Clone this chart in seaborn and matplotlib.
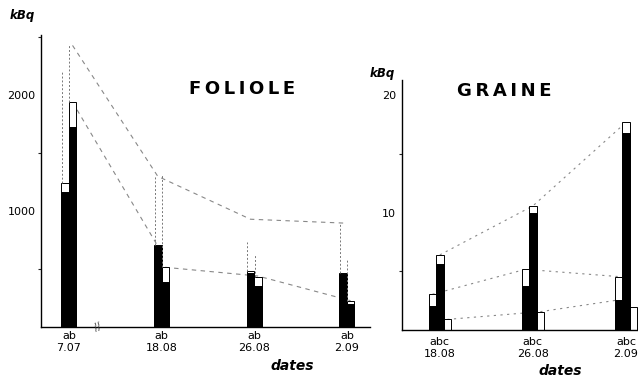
import numpy as np
import pandas as pd
import matplotlib
matplotlib.use("Agg")
import matplotlib.pyplot as plt
import seaborn as sns
from matplotlib.ticker import FixedLocator

sns.set_theme(style="white")
plt.rcParams['font.family'] = ['DejaVu Sans']

# ---------------- data ----------------
fol_dates = ['7.07', '18.08', '26.08', '2.09']
fol_bars = ['a', 'b']
fol_black_a = [1163, 698, 468, 454]
fol_black_b = [1727, 390, 356, 195]
fol_total_a = [1240, 710, 480, 470]
fol_total_b = [1940, 515, 434, 227]
fol_whisk_a = [2200, 1300, 735, 897]
fol_whisk_b = [2430, 1310, 630, 578]

fol_line1_dates = ['7.07', '18.08', '26.08', '2.09']
fol_line1_bars = ['b', 'a', 'a', 'a']
fol_line1_vals = [2430, 1300, 930, 897]
fol_line2_dates = ['7.07', '18.08']
fol_line2_bars = ['b', 'a']
fol_line2_vals = [1940, 698]
fol_line3_dates = ['18.08', '26.08', '2.09']
fol_line3_bars = ['b', 'b', 'b']
fol_line3_vals = [515, 440, 227]

gr_dates = ['18.08', '26.08', '2.09']
gr_bars = ['a', 'b', 'c']
gr_black_a = [2.05, 3.78, 2.56]
gr_black_b = [5.6, 9.95, 16.77]
gr_black_c = [0.0, 0.0, 0.0]
gr_total_a = [3.04, 5.17, 4.55]
gr_total_b = [6.4, 10.57, 17.68]
gr_total_c = [0.9, 1.56, 2.0]

gr_line1_dates = ['18.08', '26.08', '2.09']
gr_line1_bars = ['b', 'b', 'b']
gr_line1_vals = [6.4, 10.57, 17.68]
gr_line2_dates = ['18.08', '26.08', '2.09']
gr_line2_bars = ['a', 'a', 'a']
gr_line2_vals = [3.04, 5.17, 4.55]
gr_line3_dates = ['18.08', '26.08', '2.09']
gr_line3_bars = ['c', 'c', 'a']
gr_line3_vals = [0.9, 1.56, 2.56]

fol_letters = 'ab'
gr_letters = 'abc'

# ---------------- figure ----------------
fig = plt.figure(figsize=(6.38, 3.8), dpi=100)
ax1 = fig.add_axes([0.0643, 0.1395, 0.5157, 0.7684])
ax2 = fig.add_axes([0.6296, 0.1316, 0.3704, 0.6579])

BAR_W = 0.08


def draw_panel(ax, dates, bars, blacks, totals, letters):
    n = len(bars)
    rows = []
    for bi, b in enumerate(bars):
        for di, d in enumerate(dates):
            rows.append(dict(date=d, bar=b, black=blacks[bi][di], total=totals[bi][di]))
    df = pd.DataFrame(rows)
    sns.barplot(data=df, x='date', y='total', hue='bar', order=dates, hue_order=bars,
                dodge=True, width=BAR_W * n, gap=0, palette=['white'] * n,
                edgecolor='black', linewidth=0.7, legend=False, ax=ax,
                errorbar=None, saturation=1)
    sns.barplot(data=df, x='date', y='black', hue='bar', order=dates, hue_order=bars,
                dodge=True, width=BAR_W * n, gap=0, palette=['black'] * n,
                edgecolor='black', linewidth=0.7, legend=False, ax=ax,
                errorbar=None, saturation=1)
    offs = {b: (i - (n - 1) / 2) * BAR_W for i, b in enumerate(bars)}
    ax.set_xticks(range(len(dates)))
    ax.set_xticklabels([f"{letters}\n{d}" for d in dates], fontsize=8,
                       linespacing=1.25)
    return offs


def pos(dates_all, ds, bs, offs):
    return [dates_all.index(d) + offs[b] for d, b in zip(ds, bs)]


offs1 = draw_panel(ax1, fol_dates, fol_bars,
                   [fol_black_a, fol_black_b], [fol_total_a, fol_total_b], fol_letters)
offs2 = draw_panel(ax2, gr_dates, gr_bars,
                   [gr_black_a, gr_black_b, gr_black_c],
                   [gr_total_a, gr_total_b, gr_total_c], gr_letters)

# whiskers (dashed uprights) on FOLIOLE
for b, tot, wh in [('a', fol_total_a, fol_whisk_a), ('b', fol_total_b, fol_whisk_b)]:
    xs = [i + offs1[b] - BAR_W / 2 + 0.005 for i in range(len(fol_dates))]
    ax1.vlines(xs, tot, wh, colors='#777777', linestyles=(0, (2, 2)), lw=0.7, zorder=3)

lkw = dict(color='#888888', lw=0.8, linestyle=(0, (4, 4)), sort=False, zorder=0.5)
for ds, bs, vs in [(fol_line1_dates, fol_line1_bars, fol_line1_vals),
                   (fol_line2_dates, fol_line2_bars, fol_line2_vals),
                   (fol_line3_dates, fol_line3_bars, fol_line3_vals)]:
    sns.lineplot(x=pos(fol_dates, ds, bs, offs1), y=vs, ax=ax1, **lkw)

lkw2 = dict(color='#888888', lw=0.8, linestyle=(0, (2, 4)), sort=False, zorder=0.5)
for ds, bs, vs in [(gr_line1_dates, gr_line1_bars, gr_line1_vals),
                   (gr_line2_dates, gr_line2_bars, gr_line2_vals),
                   (gr_line3_dates, gr_line3_bars, gr_line3_vals)]:
    sns.lineplot(x=pos(gr_dates, ds, bs, offs2), y=vs, ax=ax2, **lkw2)

# axes styling
for ax in (ax1, ax2):
    for s in ('top', 'right'):
        ax.spines[s].set_visible(False)
    for s in ('left', 'bottom'):
        ax.spines[s].set_color('black')
        ax.spines[s].set_linewidth(1.0)
    ax.set_xlabel('')
    ax.set_ylabel('')
    ax.tick_params(axis='x', length=0, pad=3, colors='black')
    ax.tick_params(axis='y', which='major', length=3, width=0.8, direction='out',
                   labelsize=8, pad=1, colors='black')
    ax.tick_params(axis='y', which='minor', length=2, width=0.8, direction='out', left=True)
    ax.grid(False)

ax1.set_xlim(-0.30, 3.25)
ax1.set_ylim(0, 2520)
ax1.yaxis.set_major_locator(FixedLocator([1000, 2000]))
ax1.yaxis.set_minor_locator(FixedLocator([500, 1500, 2500]))

ax2.set_xlim(-0.41, 2.13)
ax2.set_ylim(0, 21.3)
ax2.yaxis.set_major_locator(FixedLocator([10, 20]))
ax2.yaxis.set_minor_locator(FixedLocator([5, 15]))
ax2.tick_params(axis='x', pad=5)

# axis break mark
ax1.text(0.31, 0, '//', fontsize=7, ha='center', va='center', color='#333333',
         rotation=20, zorder=4)

# texts
ts = '\u2009'
fig.text(242 / 638, 1 - 89 / 380, ts.join('FOLIOLE'), fontsize=13, fontweight='bold',
         ha='center', va='center', color='black')
fig.text(504 / 638, 1 - 91 / 380, ts.join('GRAINE'), fontsize=13, fontweight='bold',
         ha='center', va='center', color='black')
fig.text(10 / 638, 1 - 16 / 380, 'kBq', fontsize=8.5, fontweight='bold', style='italic',
         ha='left', va='center', color='black')
fig.text(370 / 638, 1 - 73 / 380, 'kBq', fontsize=8.5, fontweight='bold', style='italic',
         ha='left', va='center', color='black')
fig.text(292 / 638, 1 - 366 / 380, 'dates', fontsize=10, fontweight='bold', style='italic',
         ha='center', va='center', color='black')
fig.text(560 / 638, 1 - 371 / 380, 'dates', fontsize=10, fontweight='bold', style='italic',
         ha='center', va='center', color='black')

fig.savefig('out.png', dpi=100, facecolor='white')
